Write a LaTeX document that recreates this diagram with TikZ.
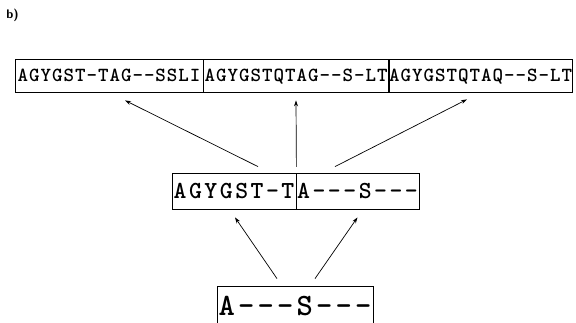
\documentclass[tikz,border=0pt]{standalone}
\usepackage{fontspec}
\newfontfamily\seqfont{lmmonolt10-bold.otf}
\usetikzlibrary{arrows.meta}
\makeatletter
\newcommand\spreadseq[2]{\@tfor\spreadch:=#2\do{\makebox[#1][c]{\spreadch}}}
\makeatother
\begin{document}
\begin{tikzpicture}[x=1pt,y=-1pt,
  cell/.style={draw, line width=0.8pt, inner sep=0pt, anchor=center},
  toprow/.style={cell, minimum height=33pt, text height=12.5pt, text depth=0pt,
    font=\seqfont\fontsize{20}{23}\selectfont},
  midrow/.style={cell, minimum height=36pt, text height=15pt, text depth=0pt,
    font=\seqfont\fontsize{24.5}{28}\selectfont},
  botrow/.style={cell, minimum height=40pt, text height=19.5pt, text depth=0pt,
    font=\seqfont\fontsize{31}{35}\selectfont},
  arr/.style={-{Stealth[length=6pt,width=4pt]}, line width=0.7pt},
  ]
\clip (0,0) rectangle (576,322);
\node[font=\sffamily\bfseries\fontsize{12.5}{14}\selectfont] (lab) at (12.5,15.5) {b)};
% top row
\node[toprow, minimum width=188pt] (t1) at (109,75.5) {\spreadseq{11.5pt}{AGYGST-TAG--SSLI}};
\node[toprow, minimum width=186pt] (t2) at (296,75.5) {\spreadseq{11.5pt}{AGYGSTQTAG--S-LT}};
\node[toprow, minimum width=183pt] (t3) at (480.5,75.5) {\spreadseq{11.5pt}{AGYGSTQTAQ--S-LT}};
% middle row
\node[midrow, minimum width=124pt] (m1) at (234,191) {\spreadseq{15.4pt}{AGYGST-T}};
\node[midrow, minimum width=123pt] (m2) at (357.5,191) {\spreadseq{15.4pt}{A---S---}};
% bottom
\node[botrow, minimum width=156pt] (b) at (295,306) {\spreadseq{19.5pt}{A---S---}};
% arrows
\draw[arr] ([shift={(24,-6)}]m1.north) -- ([shift={(16,8)}]t1.south);
\draw[arr] ([shift={(0,-6)}]m1.north east) -- ([shift={(0,8)}]t2.south);
\draw[arr] ([shift={(-22.5,-6)}]m2.north) -- ([shift={(-13.5,7)}]t3.south);
\draw[arr] ([shift={(-18,-7)}]b.north) -- ([shift={(1,8)}]m1.south);
\draw[arr] ([shift={(20,-7)}]b.north) -- ([shift={(0,8)}]m2.south);
\end{tikzpicture}
\end{document}
